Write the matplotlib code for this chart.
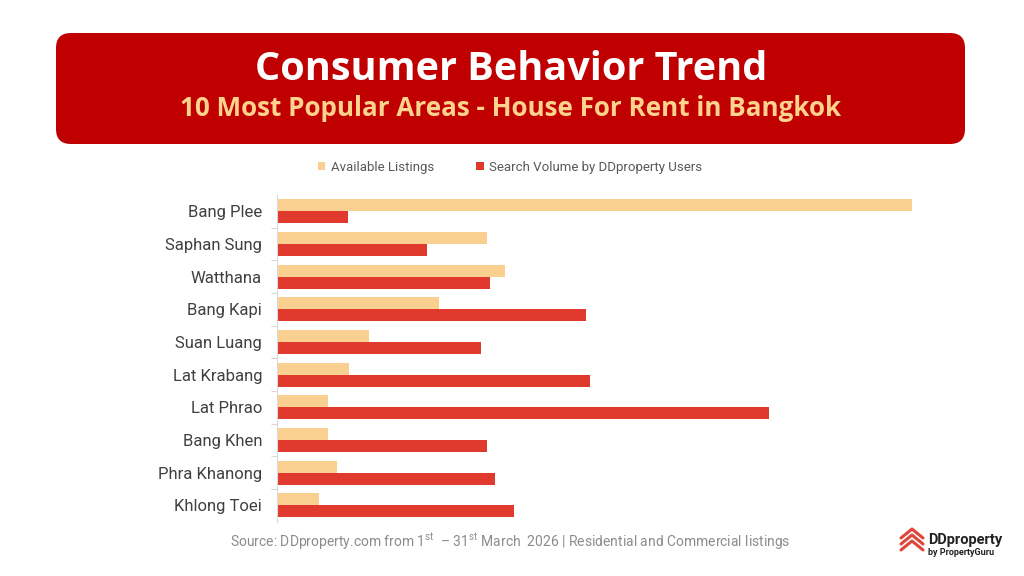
"""Consumer behaviour chart: house-for-rent areas in Bangkok."""

import matplotlib

matplotlib.use("Agg")

import matplotlib.pyplot as plt
from matplotlib.patches import FancyBboxPatch

plt.rcParams["font.family"] = ["Roboto", "DejaVu Sans"]
plt.rcParams["mathtext.fontset"] = "custom"
plt.rcParams["mathtext.rm"] = "Roboto"

# values (relative bar lengths, no axis shown)
areas = [
    "Bang Plee",
    "Saphan Sung",
    "Watthana",
    "Bang Kapi",
    "Suan Luang",
    "Lat Krabang",
    "Lat Phrao",
    "Bang Khen",
    "Phra Khanong",
    "Khlong Toei",
]
available_listings = [635, 210, 228, 162, 92, 72, 51, 51, 60, 42]
search_volume = [71, 150, 213, 309, 204, 313, 492, 210, 218, 237]

series_names = ["Available Listings", "Search Volume by DDproperty Users"]
title = "Consumer Behavior Trend"
subtitle = "10 Most Popular Areas - House For Rent in Bangkok"
source = (
    r"Source: DDproperty.com from 1$^{\mathrm{st}}$  – 31$^{\mathrm{st}}$ March  2026"
    " | Residential and Commercial listings"
)

AVAIL_COLOR = "#F9D08F"
SEARCH_COLOR = "#E0392E"
HEADER_COLOR = "#C00000"
HEAD_FONT = ["Open Sans", "Lato", "DejaVu Sans"]

W, H = 1024, 576
fig = plt.figure(figsize=(W / 100, H / 100), dpi=100)
fig.patch.set_facecolor("white")

# overlay in pixel coordinates for the decorations
deco = fig.add_axes([0, 0, 1, 1], zorder=0)
deco.set_xlim(0, W)
deco.set_ylim(H, 0)
deco.axis("off")

deco.add_patch(
    FancyBboxPatch(
        (56, 33), 909, 111,
        boxstyle="round,pad=0,rounding_size=15",
        facecolor=HEADER_COLOR, edgecolor="none",
    )
)
deco.text(511, 70, title, ha="center", va="center", color="white",
          fontsize=28.5, fontweight="bold", family=HEAD_FONT)
deco.text(511, 108, subtitle, ha="center", va="center", color="#FFD38E",
          fontsize=18.7, fontweight="bold", family=HEAD_FONT)

deco.text(510, 542, source, ha="center", va="center", color="#8C8C8C",
          fontsize=10)

# logo: stacked chevrons plus wordmark
for dy in (0, 6, 12):
    deco.plot([901, 912, 923], [538 + dy, 529 + dy, 538 + dy],
              color="#E0453A", lw=2.2, solid_capstyle="round",
              solid_joinstyle="round")
deco.text(928, 540, "DDproperty", ha="left", va="center", color="#222222",
          fontsize=10.5, fontweight="bold")
deco.text(928, 552.5, "by PropertyGuru", ha="left", va="center",
          color="#222222", fontsize=6.5, fontweight="bold")

# chart
ax = fig.add_axes([277.4 / W, 1 - 521.5 / H, 660 / W, 326.5 / H], zorder=1)
ax.patch.set_alpha(0)

pos = list(range(len(areas)))
h = 0.368
ax.barh([p - h / 2 for p in pos], available_listings, height=h,
        color=AVAIL_COLOR, label=series_names[0])
ax.barh([p + h / 2 for p in pos], search_volume, height=h,
        color=SEARCH_COLOR, label=series_names[1])

ax.set_ylim(len(areas) - 0.5, -0.5)
ax.set_xlim(0, 660)
ax.set_yticks(pos)
ax.set_yticklabels(areas, fontsize=12, color="#404040")
ax.set_yticks([p + 0.5 for p in pos[:-1]], minor=True)
ax.tick_params(axis="y", which="major", length=0, pad=11)
ax.tick_params(axis="y", which="minor", length=4, color="#D9D9D9", width=0.8)
ax.xaxis.set_visible(False)
for side in ("top", "right", "bottom"):
    ax.spines[side].set_visible(False)
ax.spines["left"].set_color("#D9D9D9")
ax.spines["left"].set_linewidth(0.8)

fig.legend(
    loc="center", bbox_to_anchor=(510 / W, 1 - 167 / H), ncol=2,
    frameon=False, fontsize=9.5, labelcolor="#595959",
    handlelength=0.6, handleheight=0.6, handletextpad=0.4,
    columnspacing=3.2,
)

fig.savefig("out.png", dpi=100, facecolor="white")
